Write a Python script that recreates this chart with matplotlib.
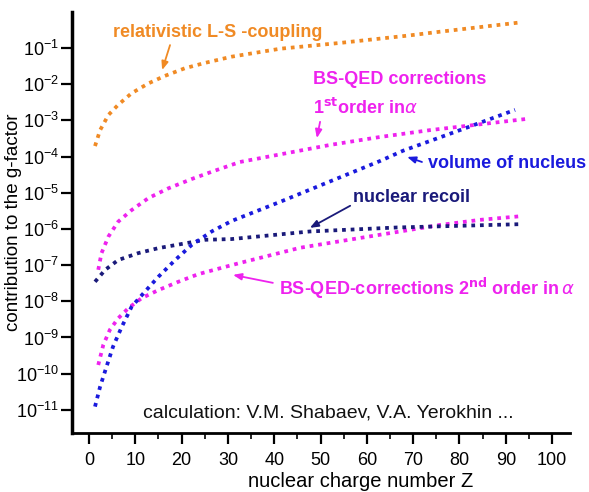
import matplotlib
matplotlib.use("Agg")
import matplotlib.pyplot as plt
import numpy as np

plt.rcParams['font.family'] = ['Liberation Sans', 'DejaVu Sans']

# Data (Z, log10 of contribution)
ls_Z = [1.3, 2.4, 4.2, 6.3, 9.2, 12.8, 16.4, 20.7, 25.1, 30.8, 41.3, 54.2, 68.7, 75.8, 92.7]
ls_log = [-3.71, -3.27, -2.85, -2.57, -2.25, -1.98, -1.77, -1.56, -1.41, -1.24,
          -1.02, -0.86, -0.66, -0.55, -0.30]

qed1_Z = [2.0, 2.7, 4.2, 6.3, 9.2, 12.8, 17.1, 22.2, 26.5, 32.6, 52.0, 62.8, 73.6, 94.5]
qed1_log = [-7.13, -6.67, -6.21, -5.80, -5.48, -5.15, -4.88, -4.62, -4.42, -4.15,
            -3.68, -3.46, -3.27, -2.96]

vol_Z = [1.3, 2.4, 3.8, 5.2, 7.1, 9.2, 12.1, 15.0, 18.6, 22.2, 26.5, 30.8, 41.3,
         52.0, 62.9, 67.8, 77.3, 81.6, 92.0]
vol_log = [-10.91, -10.36, -9.80, -9.25, -8.70, -8.15, -7.73, -7.32, -6.86, -6.44,
           -6.07, -5.78, -5.25, -4.69, -4.12, -3.84, -3.40, -3.20, -2.71]

rec_Z = [1.3, 3.5, 6.3, 10.6, 15.0, 20.7, 25.1, 30.8, 47.7, 66.5, 92.7]
rec_log = [-7.46, -7.13, -6.86, -6.67, -6.53, -6.40, -6.30, -6.28, -6.07, -5.96, -5.87]

qed2_Z = [2.0, 3.1, 4.5, 6.3, 8.5, 11.4, 15.0, 19.3, 23.6, 27.9, 32.6, 45.6, 54.2,
          67.2, 75.8, 84.4, 93.1]
qed2_log = [-9.76, -9.20, -8.79, -8.47, -8.19, -7.91, -7.69, -7.46, -7.25, -7.10,
            -6.94, -6.52, -6.34, -6.07, -5.89, -5.75, -5.65]

x_ticks = list(range(0, 101, 10))
y_ticks = [10.0 ** e for e in range(-11, 0)]

c_orange = '#F08A24'
c_mag = '#EE22EE'
c_blue = '#1A1ADD'
c_navy = '#1A1A7A'

fig = plt.figure(figsize=(5.89, 4.92), dpi=100)
ax = fig.add_axes([0.122, 0.12, 0.846, 0.856])

def dotted(Z, L, color):
    ax.plot(Z, 10.0 ** np.array(L), color=color, lw=2.7,
            linestyle=(0, (1, 1.3)), dash_capstyle='butt')

dotted(ls_Z, ls_log, c_orange)
dotted(qed1_Z, qed1_log, c_mag)
dotted(qed2_Z, qed2_log, c_mag)
dotted(rec_Z, rec_log, c_navy)
dotted(vol_Z, vol_log, c_blue)

ax.set_yscale('log')
ax.set_xlim(-3.7, 103.9)
ax.set_ylim(2.3e-12, 1.0)
ax.set_xticks(x_ticks)
ax.set_xticks(range(5, 101, 10), minor=True)
ax.set_yticks(y_ticks)

for s in ['top', 'right']:
    ax.spines[s].set_visible(False)
ax.spines['left'].set_linewidth(2.5)
ax.spines['bottom'].set_linewidth(2.0)
ax.tick_params(axis='both', which='major', direction='out', length=8, width=1.6,
               labelsize=13)
ax.tick_params(axis='both', which='minor', direction='out', length=4, width=1.2)
ax.tick_params(axis='x', which='major', pad=6)
ax.tick_params(axis='y', which='major', pad=1)

ax.set_xlabel('nuclear charge number Z', fontsize=14.5)
ax.xaxis.set_label_coords(0.58, -0.092)
ax.set_ylabel('contribution to the g-factor', fontsize=13.5)
ax.yaxis.set_label_coords(-0.10, 0.50)

def L(v):
    return 10.0 ** v

kw = dict(fontsize=13, fontweight='bold')
ap = dict(arrowstyle='-|>,head_length=0.5,head_width=0.2', lw=1.3, shrinkA=0, shrinkB=0)

ax.text(5.2, L(-0.56), 'relativistic L-S -coupling', color=c_orange, va='center', ha='left', **kw)
ax.annotate('', xy=(15.8, L(-1.61)), xytext=(17.5, L(-0.92)),
            arrowprops=dict(color=c_orange, **ap))

ax.text(48.4, L(-1.88), 'BS-QED corrections', color=c_mag, va='center', ha='left', **kw)
ax.text(48.4, L(-2.66), r'1$^{\mathbf{st}}$order in$\alpha$', color=c_mag, va='center', ha='left', **kw)
ax.annotate('', xy=(49.2, L(-3.49)), xytext=(49.9, L(-3.04)),
            arrowprops=dict(color=c_mag, **ap))

ax.text(73.2, L(-4.18), 'volume of nucleus', color=c_blue, va='center', ha='left', **kw)
ax.annotate('', xy=(68.7, L(-4.01)), xytext=(71.9, L(-4.15)),
            arrowprops=dict(color=c_blue, **ap))

ax.text(57.0, L(-5.14), 'nuclear recoil', color=c_navy, va='center', ha='left', **kw)
ax.annotate('', xy=(47.7, L(-5.97)), xytext=(56.4, L(-5.36)),
            arrowprops=dict(color=c_navy, **ap))

ax.text(41.0, L(-7.63), r'BS-QED-corrections 2$^{\mathbf{nd}}$ order in$\,\alpha$',
        color=c_mag, va='center', ha='left', **kw)
ax.annotate('', xy=(31.1, L(-7.27)), xytext=(39.7, L(-7.49)),
            arrowprops=dict(color=c_mag, **ap))

ax.text(51.7, L(-11.08), 'calculation: V.M. Shabaev, V.A. Yerokhin ...', color='#111111',
        va='center', ha='center', fontsize=14)

fig.savefig('out.png', dpi=100)
